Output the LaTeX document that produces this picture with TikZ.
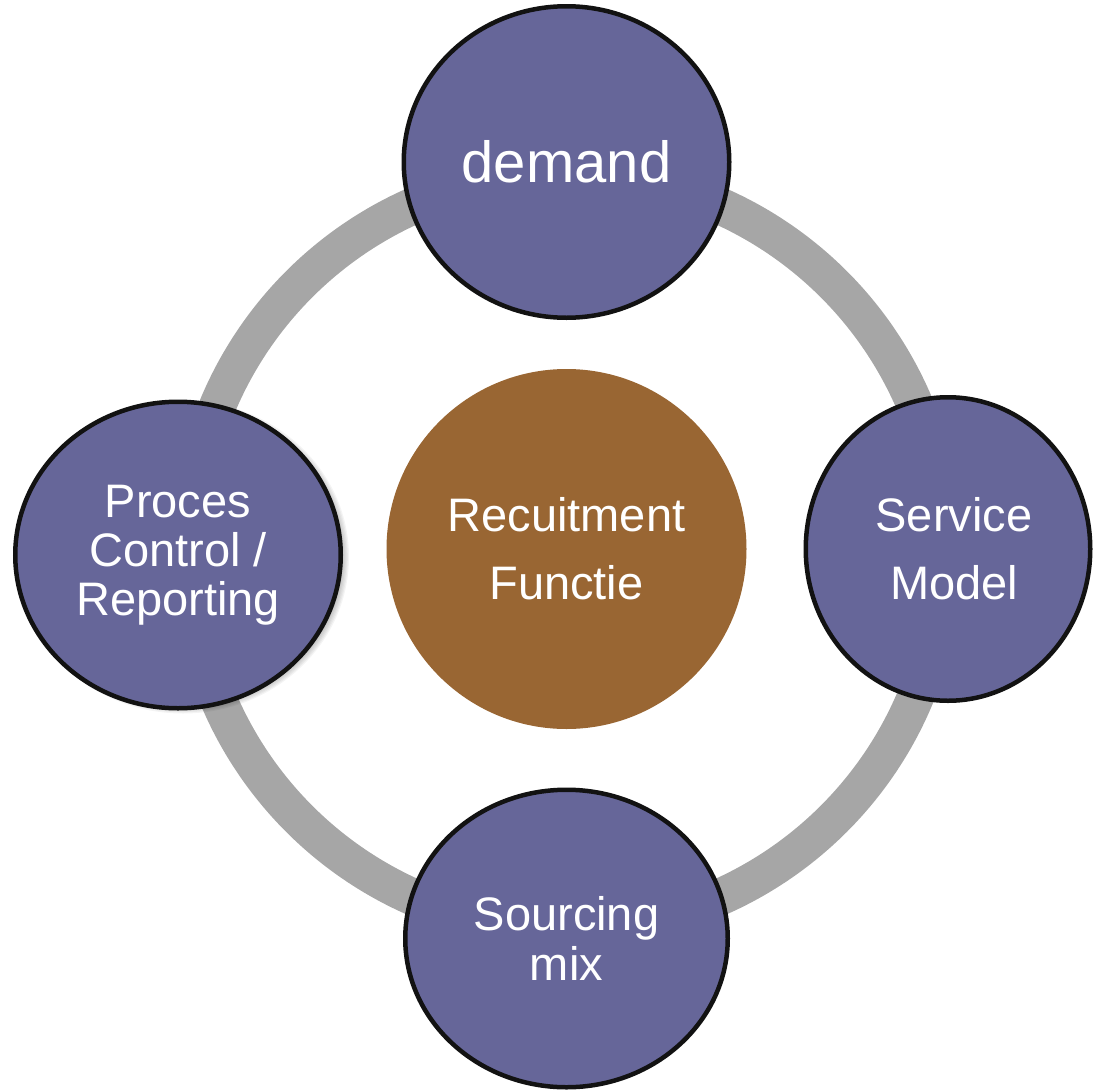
\documentclass[tikz,border=0pt]{standalone}
\usepackage{fontspec}
\setmainfont{Liberation Sans}
\usetikzlibrary{shapes.geometric}
\definecolor{nodefill}{RGB}{102,102,153}
\definecolor{hubfill}{RGB}{153,102,51}
\definecolor{ringgray}{RGB}{166,166,166}
\tikzset{
  sat/.style={ellipse, draw=black!93, line width=4.5pt, fill=nodefill,
    text=white, align=center, inner sep=0pt},
  hub/.style={circle, fill=hubfill, text=white, align=center, inner sep=0pt,
    minimum size=360pt},
  lbl/.style={font=\fontsize{47}{68}\selectfont}
}
\begin{document}
\begin{tikzpicture}[x=1pt,y=-1pt]
\useasboundingbox (0,0) rectangle (1093,1090);
% ring
\draw[ringgray, line width=37pt] (566.5,551.5) circle (378);
% centre
\node[hub, lbl] (hubnode) at (566.5,549) {Recuitment\\Functie};
% shadow for left node
\foreach \k in {0,...,6}{
  \fill[black, opacity=0.045] (183,557) ellipse ({166-\k*1.2} and {156.5-\k*1.2});
}
% satellites
\node[sat, minimum width=325.5pt, minimum height=311.5pt,
  font=\fontsize{58}{68}\selectfont] (demand) at (566.5,162) {demand};
\node[sat, minimum width=284.5pt, minimum height=303.5pt, lbl] (service) at (948,549) {};
\node[white, lbl, align=center, inner sep=0pt] (servicetext) at (954,549) {Service\\Model};
\node[sat, minimum width=322.5pt, minimum height=297.5pt,
  font=\fontsize{47}{50}\selectfont] (sourcing) at (566.5,938.5) {Sourcing\\mix};
\node[sat, minimum width=325.5pt, minimum height=306.5pt,
  font=\fontsize{47}{49}\selectfont] (proces) at (178,555) {Proces\\Control /\\Reporting};
\end{tikzpicture}
\end{document}
